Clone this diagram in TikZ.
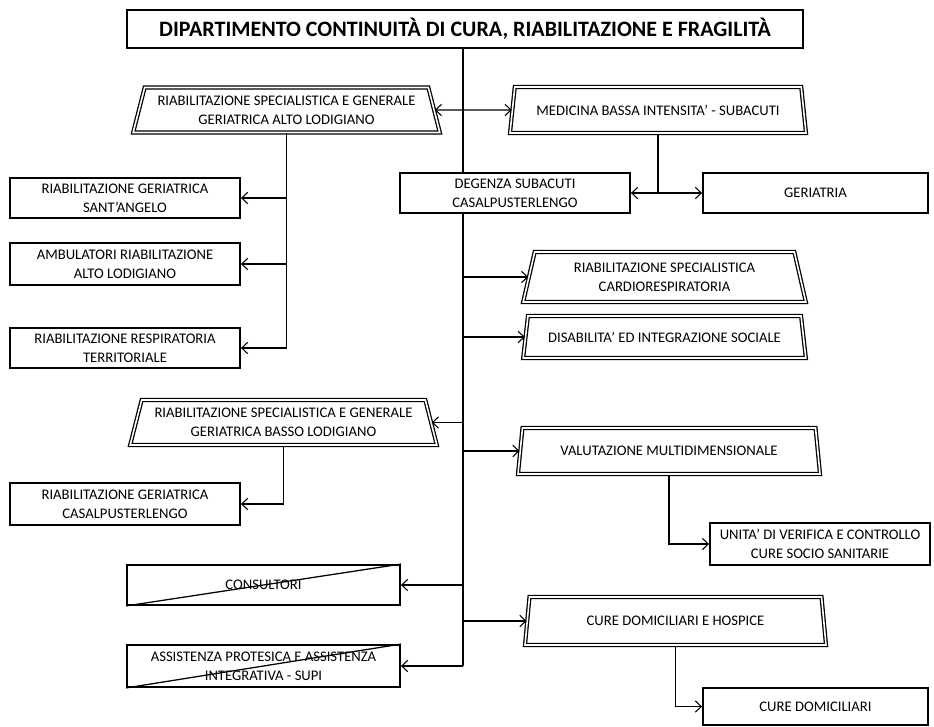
\documentclass[tikz,border=0pt]{standalone}
\usepackage{fontspec}
\setmainfont{Carlito}
\usetikzlibrary{shapes.geometric,arrows.meta}
\begin{document}
\begin{tikzpicture}[x=0.75pt,y=-0.75pt,
  conn/.style={line width=0.95pt},
  tip/.style={Straight Barb[length=4.5pt,width=8.5pt,line width=0.8pt]},
  arr/.style={conn,-{Straight Barb[length=4.5pt,width=8.5pt,line width=0.8pt]}},
  darr/.style={conn,{Straight Barb[length=4.5pt,width=8.5pt,line width=0.8pt]}-{Straight Barb[length=4.5pt,width=8.5pt,line width=0.8pt]}},
  txt/.style={align=center,inner sep=1pt,font=\fontsize{11}{14.5}\selectfont},
  unitbox/.style={txt,rectangle,draw,line width=1.4pt,fill=white},
  areabox/.style={txt,trapezium,trapezium stretches body,
    trapezium left angle=70,trapezium right angle=70,
    draw,double,double distance=1.2pt,line width=0.95pt},
  headbox/.style={rectangle,draw,line width=2.2pt,fill=white,
    font=\fontsize{16.5}{19}\selectfont\bfseries}
]
\useasboundingbox (0,0) rectangle (934,727);

% department header
\node[headbox,minimum width=507pt,minimum height=28.5pt] (title) at (465,29)
  {DIPARTIMENTO CONTINUITÀ DI CURA, RIABILITAZIONE E FRAGILITÀ};
\coordinate (spine) at (463,48);

% upper level
\node[areabox,minimum width=230pt,minimum height=33.75pt] (rsgA) at (286.5,110)
  {RIABILITAZIONE SPECIALISTICA E GENERALE\\GERIATRICA ALTO LODIGIANO};
\node[areabox,minimum width=222pt,minimum height=34.5pt] (med) at (658,110)
  {MEDICINA BASSA INTENSITA’ - SUBACUTI};
\node[unitbox,minimum width=172.5pt,minimum height=30pt] (degenza) at (515,193)
  {DEGENZA SUBACUTI\\CASALPUSTERLENGO};
\node[unitbox,minimum width=168.75pt,minimum height=30pt] (geriatria) at (815.5,193)
  {GERIATRIA};

% Alto Lodigiano units
\node[unitbox,minimum width=172.5pt,minimum height=30pt] (rgSA) at (125,198)
  {RIABILITAZIONE GERIATRICA\\SANT’ANGELO};
\node[unitbox,minimum width=172.5pt,minimum height=31.5pt] (amb) at (125,264)
  {AMBULATORI RIABILITAZIONE\\ALTO LODIGIANO};
\node[unitbox,minimum width=172.5pt,minimum height=30pt] (resp) at (125,348)
  {RIABILITAZIONE RESPIRATORIA\\TERRITORIALE};

% right-hand areas
\node[areabox,minimum width=212pt,minimum height=37.5pt] (cardio) at (664.5,277)
  {RIABILITAZIONE SPECIALISTICA\\CARDIORESPIRATORIA};
\node[areabox,minimum width=212pt,minimum height=31.5pt] (disab) at (664.5,337)
  {DISABILITA’ ED INTEGRAZIONE SOCIALE};
\node[areabox,minimum width=226.5pt,minimum height=34.5pt] (valut) at (669,451)
  {VALUTAZIONE MULTIDIMENSIONALE};
\node[unitbox,minimum width=165pt,minimum height=31.5pt] (unita) at (820,544)
  {UNITA’ DI VERIFICA E CONTROLLO\\CURE SOCIO SANITARIE};
\node[areabox,minimum width=225.75pt,minimum height=36pt] (hospice) at (675.5,621)
  {CURE DOMICILIARI E HOSPICE};
\node[unitbox,minimum width=168.75pt,minimum height=27.75pt] (curedom) at (815.5,706.5)
  {CURE DOMICILIARI};

% Basso Lodigiano
\node[areabox,minimum width=230pt,minimum height=33.75pt] (rsgB) at (283.5,422.5)
  {RIABILITAZIONE SPECIALISTICA E GENERALE\\GERIATRICA BASSO LODIGIANO};
\node[unitbox,minimum width=172.5pt,minimum height=31.5pt] (rgCP) at (125,504)
  {RIABILITAZIONE GERIATRICA\\CASALPUSTERLENGO};

% struck-out services
\node[unitbox,minimum width=204.75pt,minimum height=30pt] (consult) at (263.5,585)
  {CONSULTORI};
\node[unitbox,minimum width=204.75pt,minimum height=31.5pt] (assist) at (263.5,666)
  {ASSISTENZA PROTESICA E ASSISTENZA\\INTEGRATIVA - SUPI};
\draw[conn] (consult.south west) -- (consult.north east);
\draw[conn] (assist.south west) -- (assist.north east);

% main spine
\draw[conn] (spine) -- (degenza.north -| spine);
\draw[conn] (degenza.south -| spine) -- (assist.east -| spine);

% spine branches
\draw[darr] (rsgA.east) -- (med.west);
\draw[arr] (cardio.west -| spine) -- (cardio.west);
\draw[arr] (disab.west -| spine) -- (disab.west);
\draw[arr] (valut.west -| spine) -- (valut.west);
\draw[arr] (hospice.west -| spine) -- (hospice.west);
\draw[arr] (rsgB.east -| spine) -- (rsgB.east);
\draw[arr] (consult.east -| spine) -- (consult.east);
\draw[arr] (assist.east -| spine) -- (assist.east);

% sub-branches
\draw[arr] (med.south) |- (degenza.east);
\draw[arr] (med.south) |- (geriatria.west);
\draw[arr] (rsgA.south) |- (rgSA.east);
\draw[arr] (rsgA.south) |- (amb.east);
\draw[arr] (rsgA.south) |- (resp.east);
\draw[arr] (rsgB.south) |- (rgCP.east);
\draw[arr] (valut.south) |- (unita.west);
\draw[arr] (hospice.south) |- (curedom.west);
\end{tikzpicture}
\end{document}
